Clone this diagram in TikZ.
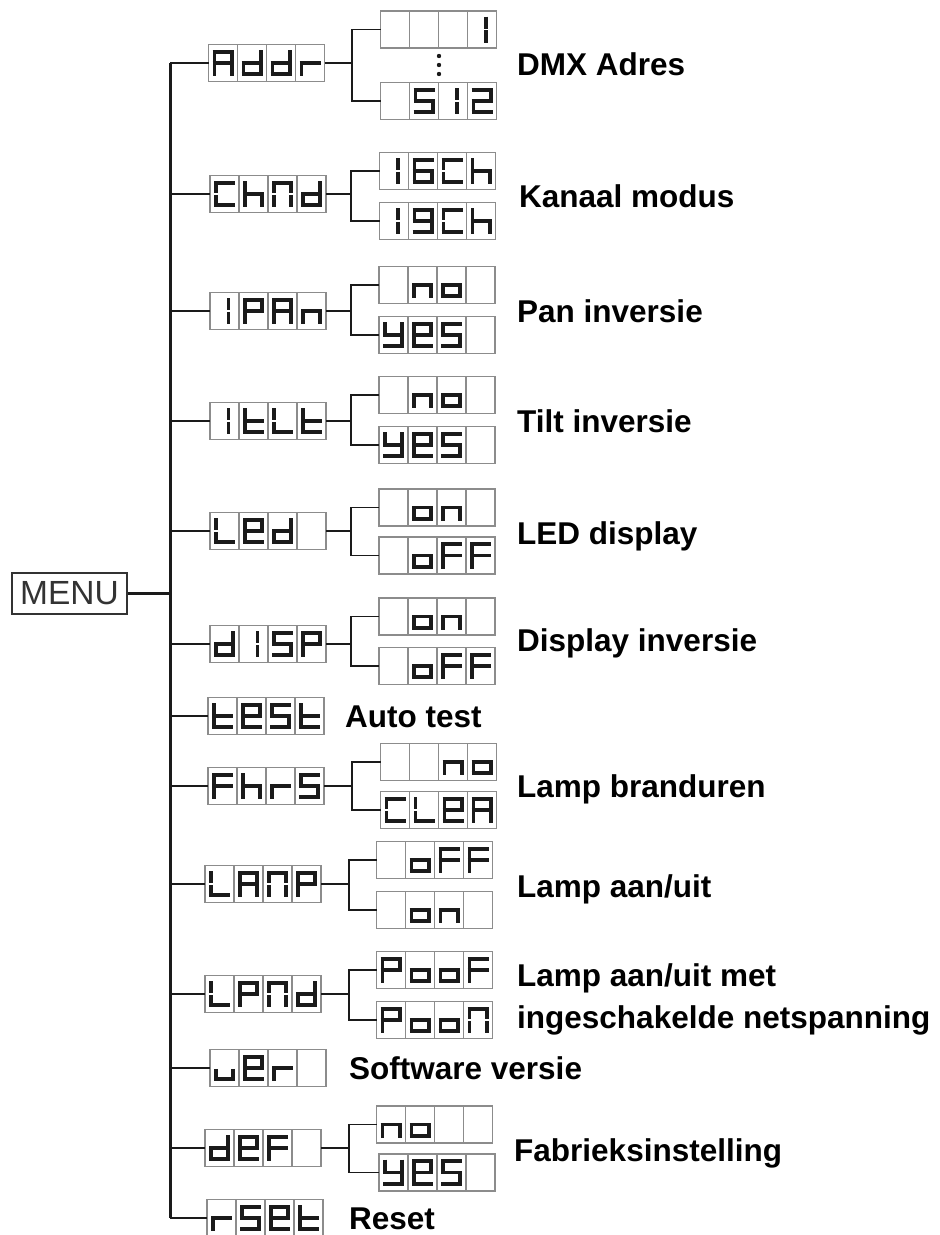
\documentclass[tikz,border=0pt]{standalone}
\usepackage{fontspec}
\setmainfont{Liberation Sans}
\definecolor{segc}{HTML}{1A1A1A}
\definecolor{cellc}{HTML}{8C8C8C}
\definecolor{linec}{HTML}{1A1A1A}
\definecolor{menuc}{HTML}{333333}
\tikzset{
 seg/.style={line width=3.9pt, draw=segc, line cap=butt},
 lcdbox/.style={draw=cellc, line width=1.3pt, minimum width=116pt, minimum height=37pt, inner sep=0pt, outer sep=0pt},
 celldiv/.style={draw=cellc, line width=1.1pt},
 trunkline/.style={draw=linec, line width=3pt},
 thickbr/.style={draw=linec, line width=2.8pt},
 br/.style={draw=linec, line width=1.6pt},
 lab/.style={anchor=base west, inner sep=0pt, align=left, font=\bfseries\fontsize{31.5}{42}\selectfont},
}
% seven segments, cell-local coordinates (y downwards)
\newcommand\SegA{\draw[seg] (4,7.4) -- (25,7.4);}
\newcommand\SegG{\draw[seg] (4,18.5) -- (25,18.5);}
\newcommand\SegD{\draw[seg] (4,29.6) -- (25,29.6);}
\newcommand\SegF{\draw[seg] (5.95,5.5) -- (5.95,17.7);}
\newcommand\SegE{\draw[seg] (5.95,19.3) -- (5.95,31.5);}
\newcommand\SegB{\draw[seg] (23.05,5.5) -- (23.05,17.7);}
\newcommand\SegC{\draw[seg] (23.05,19.3) -- (23.05,31.5);}
% glyphs
\newcommand\SvA{\SegA\SegB\SegC\SegE\SegF\SegG}
\newcommand\Svd{\SegB\SegC\SegD\SegE\SegG}
\newcommand\Svr{\SegE\SegG}
\newcommand\SvC{\SegA\SegD\SegE\SegF}
\newcommand\Svh{\SegC\SegE\SegF\SegG}
\newcommand\SvN{\SegA\SegB\SegC\SegE\SegF}
\newcommand\Svone{\draw[seg] (18.5,5.5) -- (18.5,17.7) (18.5,19.3) -- (18.5,31.5);}
\newcommand\SvP{\SegA\SegB\SegE\SegF\SegG}
\newcommand\Svn{\SegC\SegE\SegG}
\newcommand\Svt{\SegD\SegE\SegF\SegG}
\newcommand\SvL{\SegD\SegE\SegF}
\newcommand\Sve{\SegA\SegB\SegD\SegE\SegF\SegG}
\newcommand\SvS{\SegA\SegC\SegD\SegF\SegG}
\newcommand\Svy{\SegB\SegC\SegD\SegF\SegG}
\newcommand\Svo{\SegC\SegD\SegE\SegG}
\newcommand\SvF{\SegA\SegE\SegF\SegG}
\newcommand\Svu{\SegC\SegD\SegE}
\newcommand\Svsix{\SegA\SegC\SegD\SegE\SegF\SegG}
\newcommand\Svnine{\SegA\SegB\SegC\SegD\SegF\SegG}
\newcommand\Svtwo{\SegA\SegB\SegD\SegE\SegG}
\newcommand\Svx{}
% a four-cell display drawn inside a named node
\newcommand\lcd[5]{%
 \begin{scope}[shift={(#1.north west)}]
  \draw[celldiv] (29,0) -- (29,37) (58,0) -- (58,37) (87,0) -- (87,37);
  \begin{scope}#2\end{scope}
  \begin{scope}[xshift=29pt]#3\end{scope}
  \begin{scope}[xshift=58pt]#4\end{scope}
  \begin{scope}[xshift=87pt]#5\end{scope}
 \end{scope}}
\begin{document}
\begin{tikzpicture}[x=1pt,y=-1pt]
\useasboundingbox[fill=white] (0,0) rectangle (940,1235);
% ---- MENU
\node[draw=menuc, line width=1.6pt, minimum width=115pt, minimum height=41pt, inner sep=0pt, text=menuc,
      font=\fontsize{33.5}{33.5}\selectfont] (menu) at (69.5,593.5) {MENU};
\coordinate (tx) at (170,0);
% ---- main displays
\node[lcdbox] (addr) at (266.5,63) {};
\node[lcdbox] (chnd) at (268,194) {};
\node[lcdbox] (ipan) at (268,311) {};
\node[lcdbox] (itlt) at (268,421) {};
\node[lcdbox] (led)  at (268,531) {};
\node[lcdbox] (disp) at (268,644) {};
\node[lcdbox] (test) at (266,716) {};
\node[lcdbox] (fhrs) at (266,786) {};
\node[lcdbox] (lanp) at (263,884) {};
\node[lcdbox] (lpnd) at (263,994) {};
\node[lcdbox] (ver)  at (268,1068) {};
\node[lcdbox] (def)  at (263,1148) {};
\node[lcdbox] (rset) at (265,1218) {};
% ---- sub displays
\node[lcdbox] (addrA) at (438.5,29.5) {};
\node[lcdbox] (addrB) at (438.5,101) {};
\node[lcdbox] (chndA) at (437.5,171) {};
\node[lcdbox] (chndB) at (437.5,221) {};
\node[lcdbox] (ipanA) at (437,285) {};
\node[lcdbox] (ipanB) at (437,335) {};
\node[lcdbox] (itltA) at (437,395) {};
\node[lcdbox] (itltB) at (437,445) {};
\node[lcdbox] (ledA)  at (437,507.5) {};
\node[lcdbox] (ledB)  at (437,555.5) {};
\node[lcdbox] (dispA) at (437,616.5) {};
\node[lcdbox] (dispB) at (437,666) {};
\node[lcdbox] (fhrsA) at (438.5,762) {};
\node[lcdbox] (fhrsB) at (438.5,810) {};
\node[lcdbox] (lanpA) at (434.5,860) {};
\node[lcdbox] (lanpB) at (434.5,910) {};
\node[lcdbox] (lpndA) at (434.5,970) {};
\node[lcdbox] (lpndB) at (434.5,1020) {};
\node[lcdbox] (defA)  at (434.5,1124.5) {};
\node[lcdbox] (defB)  at (437,1172.5) {};
% ---- glyphs
\lcd{addr}{\SvA}{\Svd}{\Svd}{\Svr}
\lcd{chnd}{\SvC}{\Svh}{\SvN}{\Svd}
\lcd{ipan}{\Svone}{\SvP}{\SvA}{\Svn}
\lcd{itlt}{\Svone}{\Svt}{\SvL}{\Svt}
\lcd{led}{\SvL}{\Sve}{\Svd}{\Svx}
\lcd{disp}{\Svd}{\Svone}{\SvS}{\SvP}
\lcd{test}{\Svt}{\Sve}{\SvS}{\Svt}
\lcd{fhrs}{\SvF}{\Svh}{\Svr}{\SvS}
\lcd{lanp}{\SvL}{\SvA}{\SvN}{\SvP}
\lcd{lpnd}{\SvL}{\SvP}{\SvN}{\Svd}
\lcd{ver}{\Svu}{\Sve}{\Svr}{\Svx}
\lcd{def}{\Svd}{\Sve}{\SvF}{\Svx}
\lcd{rset}{\Svr}{\SvS}{\Sve}{\Svt}
\lcd{addrA}{\Svx}{\Svx}{\Svx}{\Svone}
\lcd{addrB}{\Svx}{\SvS}{\Svone}{\Svtwo}
\lcd{chndA}{\Svone}{\Svsix}{\SvC}{\Svh}
\lcd{chndB}{\Svone}{\Svnine}{\SvC}{\Svh}
\lcd{ipanA}{\Svx}{\Svn}{\Svo}{\Svx}
\lcd{ipanB}{\Svy}{\Sve}{\SvS}{\Svx}
\lcd{itltA}{\Svx}{\Svn}{\Svo}{\Svx}
\lcd{itltB}{\Svy}{\Sve}{\SvS}{\Svx}
\lcd{ledA}{\Svx}{\Svo}{\Svn}{\Svx}
\lcd{ledB}{\Svx}{\Svo}{\SvF}{\SvF}
\lcd{dispA}{\Svx}{\Svo}{\Svn}{\Svx}
\lcd{dispB}{\Svx}{\Svo}{\SvF}{\SvF}
\lcd{fhrsA}{\Svx}{\Svx}{\Svn}{\Svo}
\lcd{fhrsB}{\SvC}{\SvL}{\Sve}{\SvA}
\lcd{lanpA}{\Svx}{\Svo}{\SvF}{\SvF}
\lcd{lanpB}{\Svx}{\Svo}{\Svn}{\Svx}
\lcd{lpndA}{\SvP}{\Svo}{\Svo}{\SvF}
\lcd{lpndB}{\SvP}{\Svo}{\Svo}{\SvN}
\lcd{defA}{\Svn}{\Svo}{\Svx}{\Svx}
\lcd{defB}{\Svy}{\Sve}{\SvS}{\Svx}
% dots between 1 and 512
\foreach \yy in {56,65,74} \fill[segc] (439,\yy) circle (2.2pt);
% ---- trunk and connectors
\draw[thickbr] (menu.east) -- (menu.east -| tx);
\draw[trunkline] (addr.west -| tx) -- (rset.west -| tx);
\draw[thickbr] (addr.west) -- (addr.west -| tx);
\draw[thickbr] (chnd.west) -- (chnd.west -| tx);
\foreach \n in {ipan,itlt,led,disp,test,fhrs,lanp,lpnd,ver,def,rset}
  \draw[br] (\n.west) -- (\n.west -| tx);
% branches to sub displays
\coordinate (addrJ) at (352,63);
\coordinate (chndJ) at (351,194);
\coordinate (ipanJ) at (351,311);
\coordinate (itltJ) at (351,421);
\coordinate (ledJ)  at (351,531);
\coordinate (dispJ) at (351,644);
\coordinate (fhrsJ) at (352,786);
\coordinate (lanpJ) at (349,884);
\coordinate (lpndJ) at (349,994);
\coordinate (defJ)  at (349,1148);
\foreach \n in {addr,chnd,ipan,itlt,led,disp,fhrs,lanp,lpnd,def}{
  \draw[br] (\n.east) -- (\n J);
  \draw[br] (\n A.west) -| (\n J) |- (\n B.west);
}
% ---- labels
\node[lab] (tAddr) at (517,75)   {DMX Adres};
\node[lab] (tChnd) at (519,207)  {Kanaal modus};
\node[lab] (tIpan) at (517,322)  {Pan inversie};
\node[lab] (tItlt) at (517,432)  {Tilt inversie};
\node[lab] (tLed)  at (517,544)  {LED display};
\node[lab] (tDisp) at (517,651)  {Display inversie};
\node[lab] (tTest) at (345,727)  {Auto test};
\node[lab] (tFhrs) at (517,797)  {Lamp branduren};
\node[lab] (tLanp) at (517,897)  {Lamp aan/uit};
\node[lab] (tLpnd) at (517,1028) {Lamp aan/uit met\\ingeschakelde netspanning};
\node[lab] (tVer)  at (349,1079) {Software versie};
\node[lab] (tDef)  at (514,1161) {Fabrieksinstelling};
\node[lab] (tRset) at (349,1229) {Reset};
\end{tikzpicture}
\end{document}
